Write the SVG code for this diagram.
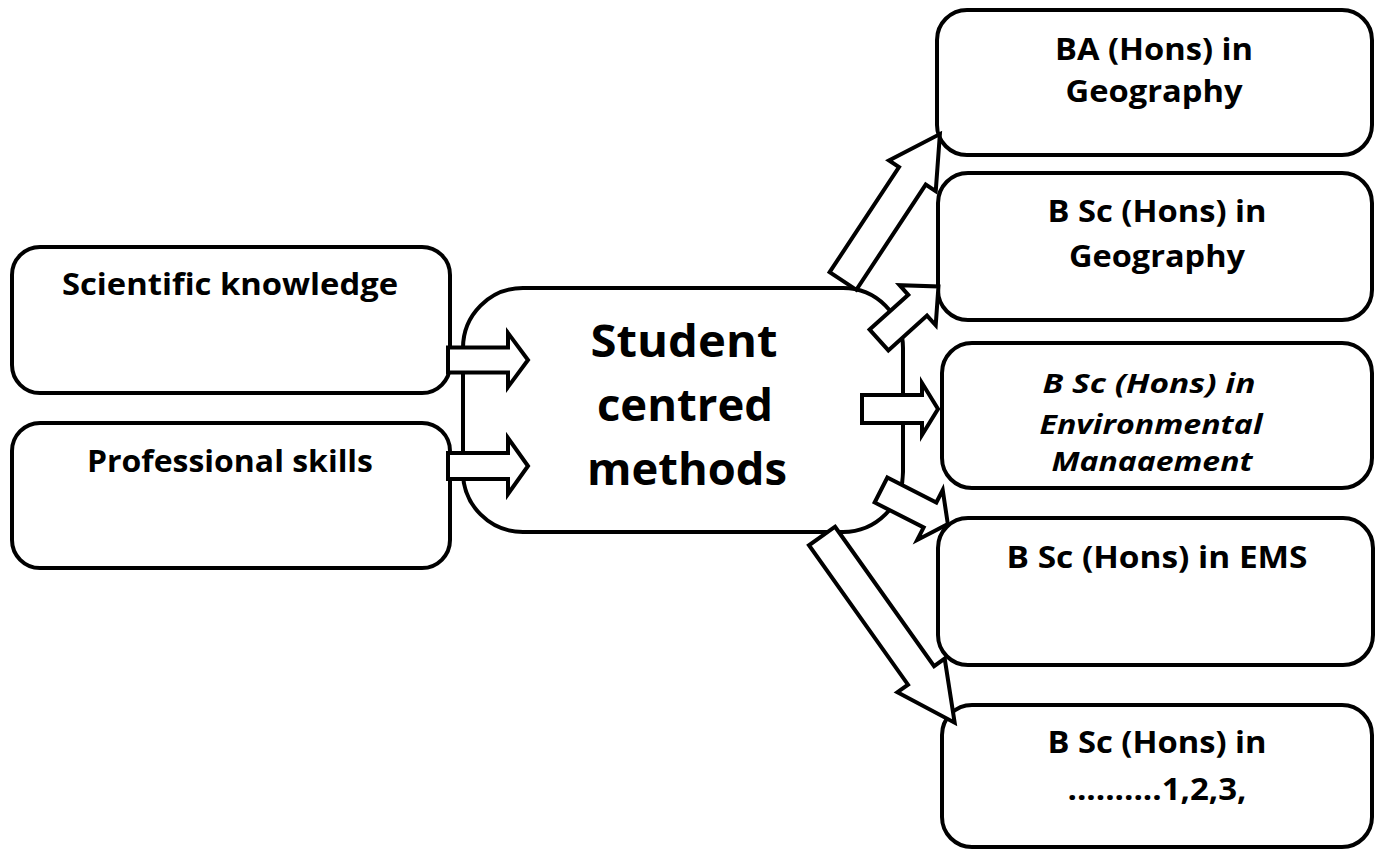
<svg xmlns="http://www.w3.org/2000/svg" width="1379" height="851" viewBox="0 0 1379 851">
<style>
.box{fill:#fff;stroke:#000;stroke-width:4}
.arr{fill:#fff;stroke:#000;stroke-width:4;stroke-linejoin:miter}
.t{font-family:"Open Sans","Liberation Sans",sans-serif;font-weight:bold;fill:#000;text-anchor:middle}
.s{font-size:30px}
.i{font-style:italic;font-size:26px}
.c{font-size:45px;font-weight:bold}
</style>
<rect width="1379" height="851" fill="#fff"/>
<g id="node-scientific">
<rect class="box" x="12" y="247" width="438" height="146" rx="28"/>
<text class="t s" x="230" y="295" textLength="336" lengthAdjust="spacingAndGlyphs">Scientific knowledge</text>
</g>
<g id="node-professional">
<rect class="box" x="12" y="423" width="438" height="145" rx="28"/>
<text class="t s" x="230" y="472" textLength="286" lengthAdjust="spacingAndGlyphs">Professional skills</text>
</g>
<g id="node-center">
<rect class="box" x="463" y="288" width="440" height="244" rx="60"/>
<text class="t c" x="684" y="357" textLength="187" lengthAdjust="spacingAndGlyphs">Student</text>
<text class="t c" x="685" y="421" textLength="176" lengthAdjust="spacingAndGlyphs">centred</text>
<text class="t c" x="687" y="485" textLength="200" lengthAdjust="spacingAndGlyphs">methods</text>
</g>
<g id="node-ba">
<rect class="box" x="937" y="10" width="435" height="145" rx="30"/>
<text class="t s" x="1154" y="60" textLength="198" lengthAdjust="spacingAndGlyphs">BA (Hons) in</text>
<text class="t s" x="1154" y="102" textLength="177" lengthAdjust="spacingAndGlyphs">Geography</text>
</g>
<g id="node-bsc-geo">
<rect class="box" x="938" y="173" width="434" height="147" rx="30"/>
<text class="t s" x="1157" y="222" textLength="219" lengthAdjust="spacingAndGlyphs">B Sc (Hons) in</text>
<text class="t s" x="1157" y="267" textLength="176" lengthAdjust="spacingAndGlyphs">Geography</text>
</g>
<g id="node-bsc-env">
<rect class="box" x="942" y="343" width="430" height="145" rx="30"/>
<text class="t i" x="1149" y="393" textLength="213" lengthAdjust="spacingAndGlyphs">B Sc (Hons) in</text>
<text class="t i" x="1151" y="434" textLength="223" lengthAdjust="spacingAndGlyphs">Environmental</text>
<text class="t i" x="1152" y="471" textLength="201" lengthAdjust="spacingAndGlyphs">Manaaement</text>
</g>
<g id="node-bsc-ems">
<rect class="box" x="938" y="518" width="435" height="147" rx="30"/>
<text class="t s" x="1157" y="568" textLength="301" lengthAdjust="spacingAndGlyphs">B Sc (Hons) in EMS</text>
</g>
<g id="node-bsc-other">
<rect class="box" x="942" y="705" width="430" height="142" rx="30"/>
<text class="t s" x="1157" y="753" textLength="219" lengthAdjust="spacingAndGlyphs">B Sc (Hons) in</text>
<text class="t s" x="1157" y="800" textLength="179" lengthAdjust="spacingAndGlyphs">..........1,2,3,</text>
</g>
<g id="connectors">
<polygon class="arr" transform="translate(448,360)" points="0,-12.5 60,-12.5 60,-27 80,0 60,27 60,12.5 0,12.5"/>
<polygon class="arr" transform="translate(448,466)" points="0,-13 60,-13 60,-28 80,0 60,28 60,13 0,13"/>
<polygon class="arr" transform="translate(843,281) rotate(-56.6)" points="0,-16 126,-16 126,-28 176,0 126,28 126,16 0,16"/>
<polygon class="arr" transform="translate(879,340) rotate(-42)" points="0,-14 52,-14 52,-27 80,0 52,27 52,14 0,14"/>
<polygon class="arr" transform="translate(862,409)" points="0,-14 60,-14 60,-26 76,0 60,26 60,14 0,14"/>
<polygon class="arr" transform="translate(881,490) rotate(27)" points="0,-14 55,-14 55,-28 75,0 55,28 55,14 0,14"/>
<polygon class="arr" transform="translate(822,536) rotate(54.6)" points="0,-16 171,-16 171,-29 229,0 171,29 171,16 0,16"/>
</g>
</svg>
